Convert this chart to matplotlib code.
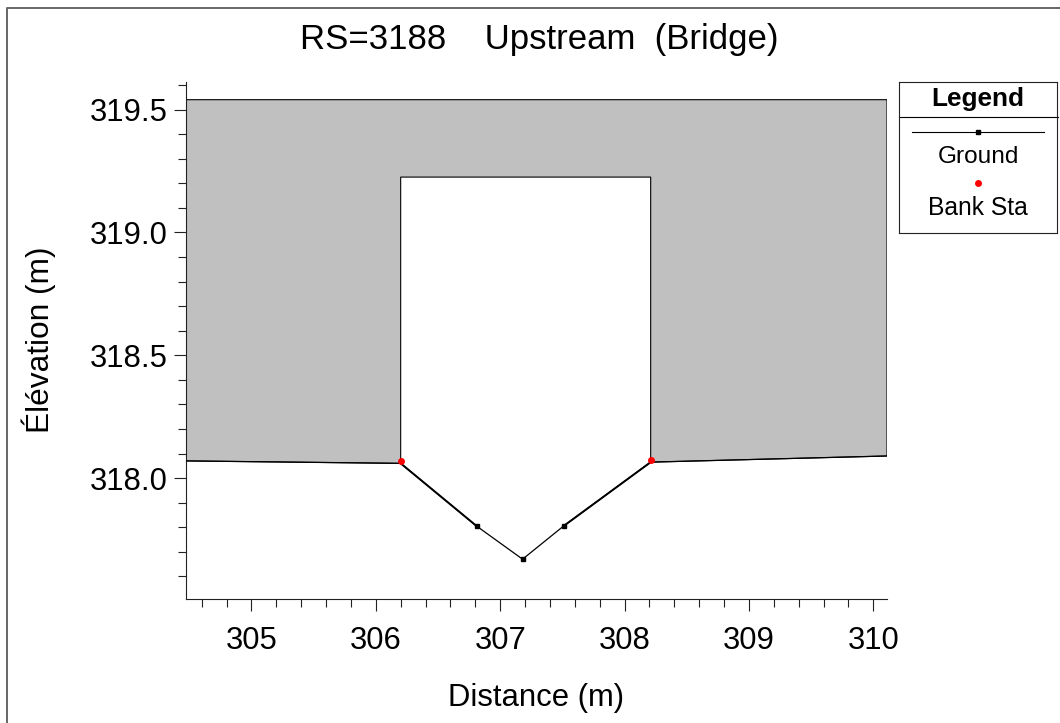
"""Bridge cross section at RS=3188, upstream side."""

import matplotlib
matplotlib.use("Agg")
import matplotlib.pyplot as plt
from matplotlib.lines import Line2D

plt.rcParams["font.family"] = ["Liberation Sans", "DejaVu Sans"]

W, H = 1060, 723

# ground profile
ground_x = [304.47, 306.20, 306.81, 307.18, 307.51, 308.21, 310.11]
ground_y = [318.07, 318.06, 317.805, 317.67, 317.805, 318.065, 318.09]
ground_pts_x = [306.81, 307.18, 307.51]
ground_pts_y = [317.805, 317.67, 317.805]

# bank stations
bank_x = [306.20, 308.21]
bank_y = [318.068, 318.072]

# bridge deck outline
deck_x = [304.47, 304.47, 310.11, 310.11, 308.21, 308.21, 306.20, 306.20]
deck_y = [318.07, 319.54, 319.54, 318.09, 318.065, 319.225, 319.225, 318.06]

xticks = [305, 306, 307, 308, 309, 310]
xminor = [304.6, 304.8, 305.2, 305.4, 305.6, 305.8, 306.2, 306.4, 306.6, 306.8,
          307.2, 307.4, 307.6, 307.8, 308.2, 308.4, 308.6, 308.8,
          309.2, 309.4, 309.6, 309.8]
yticks = [318.0, 318.5, 319.0, 319.5]
yminor = [317.6, 317.7, 317.8, 317.9, 318.1, 318.2, 318.3, 318.4,
          318.6, 318.7, 318.8, 318.9, 319.1, 319.2, 319.3, 319.4, 319.6]


def px_axes(fig, left, top, right, bottom):
    return fig.add_axes([left / W, 1 - bottom / H, (right - left) / W, (bottom - top) / H])


fig = plt.figure(figsize=(W / 100, H / 100), dpi=100)

# the picture frame only shows on its top and left sides
fig.add_artist(Line2D([6.5 / W, 6.5 / W, 1], [0, 1 - 7.5 / H, 1 - 7.5 / H],
                      transform=fig.transFigure, color="#666666", linewidth=1.4))

ax = px_axes(fig, 185.5, 82, 887, 599)
ax.set_xlim(304.47, 310.11)
ax.set_ylim(317.508, 319.612)

ax.fill(deck_x, deck_y, facecolor="#c0c0c0", edgecolor="black", linewidth=0.8, zorder=2)
ax.plot(ground_x, ground_y, color="black", linewidth=0.9, zorder=3)
# the two bank-side slopes read heavier than the rest of the ground line
ax.plot(ground_x[1:3], ground_y[1:3], color="black", linewidth=1.4, zorder=3)
ax.plot(ground_x[4:6], ground_y[4:6], color="black", linewidth=1.4, zorder=3)
ax.plot(ground_pts_x, ground_pts_y, "s", color="black", markersize=3.0, zorder=4)
ax.plot(bank_x, bank_y, "o", color="red", markersize=5.0, markeredgewidth=0, zorder=5)

ax.spines["top"].set_visible(False)
ax.spines["right"].set_visible(False)
for side in ("left", "bottom"):
    ax.spines[side].set_linewidth(0.8)
    ax.spines[side].set_color("#222222")

ax.set_xticks(xticks)
ax.set_xticks(xminor, minor=True)
ax.set_yticks(yticks)
ax.set_yticks(yminor, minor=True)
ax.set_xticklabels([str(v) for v in xticks])
ax.set_yticklabels([f"{v:.1f}" for v in yticks])
ax.tick_params(which="major", length=8.6, width=0.8, labelsize=22.3, color="#222222")
ax.tick_params(axis="x", which="major", pad=10.5)
ax.tick_params(axis="y", which="major", pad=4)
ax.tick_params(which="minor", length=5.5, width=0.8, color="#222222")

fig.text(539 / W, 1 - 39 / H, "RS=3188    Upstream  (Bridge)", fontsize=25,
         ha="center", va="center")
fig.text(536 / W, 1 - 698 / H, "Distance (m)", fontsize=22.3, ha="center", va="center")
fig.text(39 / W, 1 - 340 / H, "Élévation (m)", fontsize=22.8, rotation=90,
         ha="center", va="center")

# legend box, drawn by hand in pixel coordinates of its own axes
leg = px_axes(fig, 899, 82, 1057, 233)
leg.set_xlim(899, 1057)
leg.set_ylim(233, 82)
leg.set_xticks([])
leg.set_yticks([])
for spine in leg.spines.values():
    spine.set_linewidth(0.8)
    spine.set_color("#222222")
leg.plot([899, 1058], [117, 117], color="black", linewidth=0.8, clip_on=False)
leg.plot([912, 1044], [132, 132], color="black", linewidth=0.8)
leg.plot([978], [132], "s", color="black", markersize=3.0)
leg.plot([978], [183], "o", color="red", markersize=5.0, markeredgewidth=0)
leg.text(978, 99, "Legend", fontsize=18.8, fontweight="bold", ha="center", va="center")
leg.text(978, 157, "Ground", fontsize=17.6, ha="center", va="center")
leg.text(978, 208, "Bank Sta", fontsize=17.7, ha="center", va="center")

fig.savefig("out.png", dpi=100)
